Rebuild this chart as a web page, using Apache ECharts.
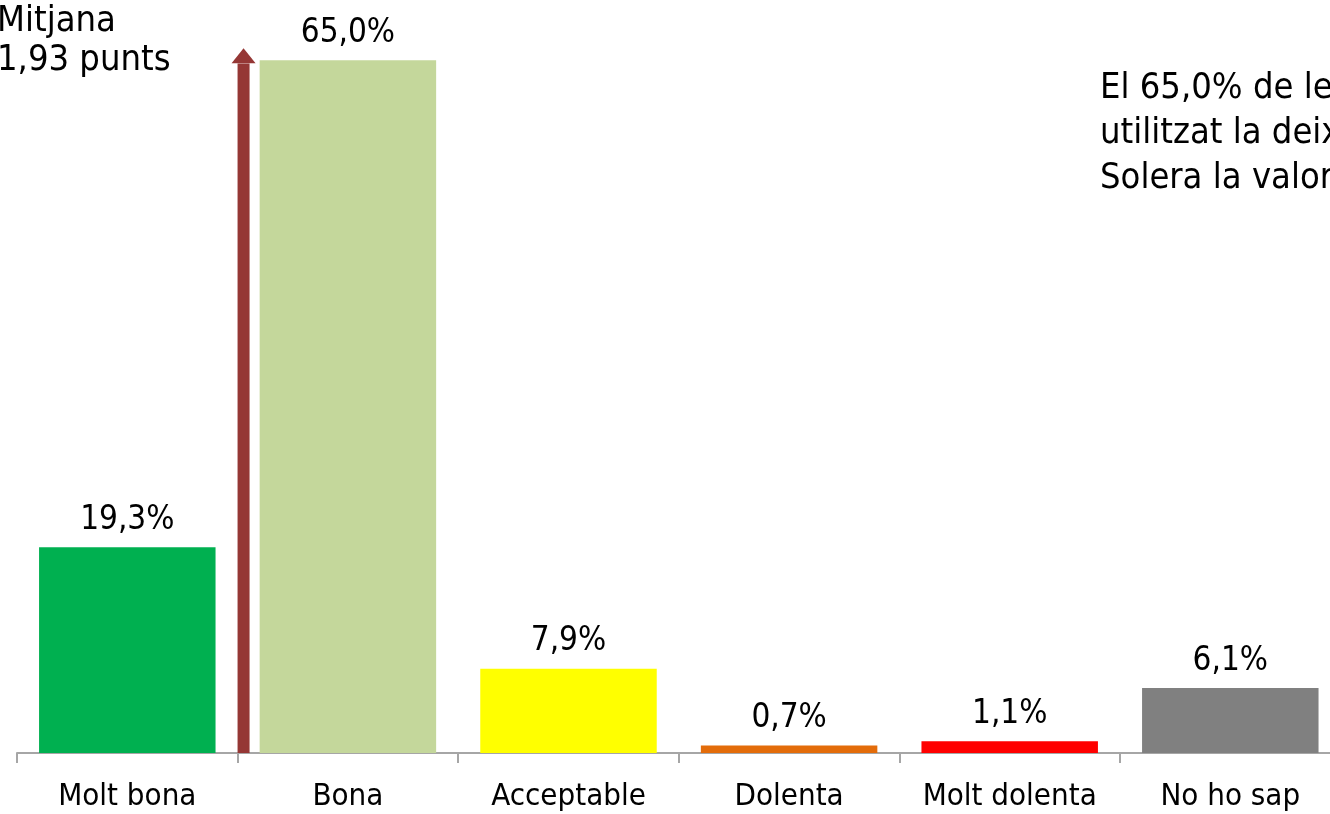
<!DOCTYPE html>
<html>
<head>
<meta charset="utf-8">
<script src="https://cdn.jsdelivr.net/npm/echarts@6/dist/echarts.min.js"></script>
<style>
html,body{margin:0;padding:0;background:#fff;}
#chart{width:1330px;height:814px;}
</style>
</head>
<body>
<div id="chart"></div>
<script>
// ---- data ----
var categories = ['Molt bona', 'Bona', 'Acceptable', 'Dolenta', 'Molt dolenta', 'No ho sap'];
var values = [19.3, 65.0, 7.9, 0.7, 1.1, 6.1];
var barColors = ['#00B050', '#C4D79B', '#FFFF00', '#E36C0A', '#FF0000', '#808080'];
var meanTitle = ['Mitjana', '1,93 punts'];
var noteLines = ['El 65,0% de les persones', 'utilitzat la deixalleria', 'Solera la valoren'];
// mean arrow: x on a 0-6 category-span scale, shaft top / head centre in %
var arrowX = 1.027;
var arrowShaftTop = 64.7;
var arrowHeadCentre = 65.43;

var FONT = '"DejaVu Sans Condensed", "DejaVu Sans", sans-serif';

var chart = echarts.init(document.getElementById('chart'), null, {renderer: 'canvas'});

var barData = values.map(function (v, i) {
  return {value: v, itemStyle: {color: barColors[i]}};
});

var option = {
  animation: false,
  backgroundColor: '#ffffff',
  grid: {left: 17, top: 7, right: -10.6, bottom: 61, containLabel: false, outerBoundsMode: 'none'},
  xAxis: [{
    type: 'category',
    data: categories,
    boundaryGap: true,
    axisLine: {show: true, lineStyle: {color: '#A6A6A6', width: 2}},
    axisTick: {show: true, length: 10, alignWithLabel: false, lineStyle: {color: '#A6A6A6', width: 2}},
    axisLabel: {
      color: '#000', fontFamily: FONT, fontSize: 31, lineHeight: 31, margin: 28, interval: 0
    },
    splitLine: {show: false}
  }, {
    type: 'value', min: 0, max: 6, show: false
  }],
  yAxis: {
    type: 'value', min: 0, max: 70, show: false, splitLine: {show: false}
  },
  series: [{
    type: 'bar',
    data: barData,
    barWidth: '80%',
    label: {
      show: true, position: 'top', distance: 10.5,
      color: '#000', fontFamily: FONT, fontSize: 33, lineHeight: 33,
      formatter: function (p) { return p.value.toFixed(1).replace('.', ',') + '%'; }
    }
  }, {
    type: 'line',
    xAxisIndex: 1,
    data: [[arrowX, 0], [arrowX, arrowShaftTop]],
    symbol: 'none',
    lineStyle: {color: '#953735', width: 12, cap: 'butt'},
    silent: true
  }, {
    type: 'scatter',
    xAxisIndex: 1,
    data: [[arrowX, arrowHeadCentre]],
    symbol: 'triangle',
    symbolSize: [24, 15],
    itemStyle: {color: '#953735', opacity: 1},
    silent: true
  }],
  graphic: [{
    type: 'text',
    left: -3, top: 2,
    style: {
      text: meanTitle.join('\n'),
      fill: '#000',
      font: '36px ' + FONT,
      lineHeight: 39
    }
  }, {
    type: 'text',
    left: 1100, top: 66,
    style: {
      text: noteLines.join('\n'),
      fill: '#000',
      font: '36px ' + FONT,
      lineHeight: 45
    }
  }]
};
chart.setOption(option);
</script>
</body>
</html>
